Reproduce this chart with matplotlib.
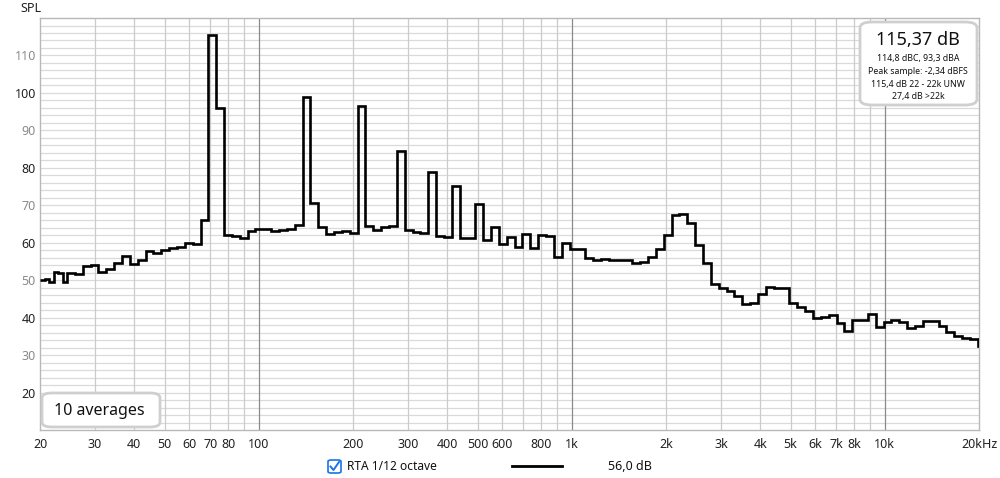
import numpy as np
import matplotlib
matplotlib.use("Agg")
import matplotlib.pyplot as plt
from matplotlib.patches import FancyBboxPatch
from matplotlib.lines import Line2D

plt.rcParams['font.family'] = ['Noto Sans', 'DejaVu Sans']

# ---------------- data ----------------
# first few narrow low-frequency bands (20 Hz .. 24.4 Hz)
narrow_start_hz = 20.0
twelfth_start_hz = 24.4
spl_narrow = [50.0, 50.4, 49.5, 52.3, 52.0, 49.5]

# 1/12-octave bands starting at 24.4 Hz
spl_twelfth = [
    52.0, 51.6, 53.7, 54.1, 52.2, 53.0, 54.6, 56.4, 54.4, 55.3,
    57.8, 57.3, 58.0, 58.5, 58.8, 59.9, 59.6, 66.0, 115.4, 96.0,
    62.2, 61.8, 61.3, 63.1, 63.8, 63.8, 63.1, 63.3, 63.6, 64.7,
    98.9, 70.5, 64.2, 62.4, 62.9, 63.1, 62.6, 96.4, 64.6, 63.5,
    64.3, 64.6, 84.4, 63.4, 62.8, 62.5, 78.8, 61.9, 61.6, 75.1,
    61.3, 61.3, 70.4, 60.6, 64.2, 59.7, 61.5, 58.8, 62.4, 58.5,
    62.1, 61.8, 56.3, 60.0, 58.3, 58.4, 55.8, 55.5, 55.6, 55.4,
    55.3, 55.4, 54.7, 54.9, 56.3, 58.2, 62.2, 67.3, 67.7, 65.3,
    59.4, 54.7, 48.9, 47.8, 47.0, 45.8, 43.7, 43.9, 46.4, 48.2,
    47.8, 48.0, 44.0, 42.9, 41.8, 40.0, 40.3, 40.7, 38.5, 36.4,
    39.4, 39.3, 40.9, 37.5, 38.9, 39.3, 38.9, 37.3, 37.7, 39.1,
    39.1, 37.9, 36.2, 35.1, 34.5, 34.2, 32.4,
]

x_tick_values = [20, 30, 40, 50, 60, 70, 80, 100, 200, 300, 400, 500, 600, 800,
                 1000, 2000, 3000, 4000, 5000, 6000, 7000, 8000, 10000, 20000]
x_tick_labels = ['20', '30', '40', '50', '60', '70', '80', '100', '200', '300', '400',
                 '500', '600', '800', '1k', '2k', '3k', '4k', '5k', '6k', '7k', '8k',
                 '10k', '20kHz']
y_tick_values = [20, 30, 40, 50, 60, 70, 80, 90, 100, 110]

# ---------------- band edges ----------------
edges_narrow = np.geomspace(narrow_start_hz, twelfth_start_hz, len(spl_narrow) + 1)
edges_twelfth = twelfth_start_hz * 2.0 ** (np.arange(len(spl_twelfth) + 1) / 12.0)
edges = np.concatenate([edges_narrow[:-1], edges_twelfth])
values = np.array(spl_narrow + spl_twelfth)

# ---------------- figure ----------------
fig = plt.figure(figsize=(10, 4.78), dpi=100)
ax = fig.add_axes([0.040, 0.1004, 0.939, 0.8619])
ax.set_xscale('log')
ax.set_xlim(20, 20000)
ax.set_ylim(10, 120)

# grid
for y in np.arange(12, 120, 2):
    ax.axhline(y, color='#dadada', lw=0.9, zorder=1)
for dec in [10, 100, 1000, 10000]:
    for m in range(1, 10):
        f = dec * m
        if 20 < f < 20000:
            if f in (100, 1000, 10000):
                ax.axvline(f, color='#8a8a8a', lw=0.9, zorder=1.5)
            else:
                ax.axvline(f, color='#cbcbcb', lw=0.9, zorder=1.2)

ax.stairs(values, edges, color='black', lw=1.9, zorder=3, baseline=None)

for s in ax.spines.values():
    s.set_color('#b8b8b8')
    s.set_linewidth(1.0)

ax.set_xticks(x_tick_values)
ax.set_xticklabels(x_tick_labels)
ax.xaxis.set_minor_locator(matplotlib.ticker.NullLocator())
ax.tick_params(axis='x', length=0, pad=6, labelsize=9, labelcolor='#222222')

ax.set_yticks(y_tick_values)
ax.set_yticklabels([str(v) for v in y_tick_values])
ax.tick_params(axis='y', length=0, pad=3, labelsize=9)
for lab, v in zip(ax.get_yticklabels(), y_tick_values):
    lab.set_color('#222222' if (v // 10) % 2 == 0 else '#8a8a8a')

# SPL label
fig.text(20 / 1000, 1 - 8 / 478, 'SPL', ha='left', va='center', fontsize=9, color='#222222')

# top-right info box
W, H = 1000.0, 478.0
def fx(px):
    return px / W
def fy(py):
    return 1 - py / H

box = FancyBboxPatch((fx(860), fy(105)), fx(977) - fx(860), fy(22) - fy(105),
                     boxstyle='round,pad=0,rounding_size=0.012',
                     transform=fig.transFigure, facecolor='white',
                     edgecolor='#cfcfcf', lw=2.0, zorder=5)
fig.patches.append(box)
fig.text(fx(918), fy(40), '115,37 dB', ha='center', va='center', fontsize=13, color='#111111', zorder=6)
info_lines = ['114,8 dBC, 93,3 dBA', 'Peak sample: -2,34 dBFS', '115,4 dB 22 - 22k UNW', '27,4 dB >22k']
for t, py in zip(info_lines, [58.5, 71, 84, 97]):
    fig.text(fx(918), fy(py), t, ha='center', va='center', fontsize=6.3, color='#111111', zorder=6)

# bottom-left averages box
box2 = FancyBboxPatch((fx(42), fy(427)), fx(160) - fx(42), fy(393) - fy(427),
                      boxstyle='round,pad=0,rounding_size=0.01',
                      transform=fig.transFigure, facecolor='white',
                      edgecolor='#cfcfcf', lw=2.0, zorder=5)
fig.patches.append(box2)
fig.text(fx(54), fy(411), '10 averages', ha='left', va='center', fontsize=11.5, color='#111111', zorder=6)

# legend row
cb = FancyBboxPatch((fx(328), fy(473)), fx(341) - fx(328), fy(460) - fy(473),
                    boxstyle='round,pad=0,rounding_size=0.003',
                    transform=fig.transFigure, facecolor='white',
                    edgecolor='#1a73e8', lw=1.2, zorder=5)
fig.patches.append(cb)
chk = Line2D([fx(330.5), fx(333.5), fx(339)], [fy(466.5), fy(470), fy(462)],
             transform=fig.transFigure, color='#1a73e8', lw=1.4, zorder=7)
fig.lines.append(chk)
fig.text(fx(347), fy(466), 'RTA 1/12 octave', ha='left', va='center', fontsize=8.6, color='#111111')
fig.lines.append(Line2D([fx(512), fx(562)], [fy(466), fy(466)],
                        transform=fig.transFigure, color='black', lw=2.0))
fig.text(fx(608), fy(466), '56,0 dB', ha='left', va='center', fontsize=9, color='#111111')

fig.savefig('out.png', dpi=100)
